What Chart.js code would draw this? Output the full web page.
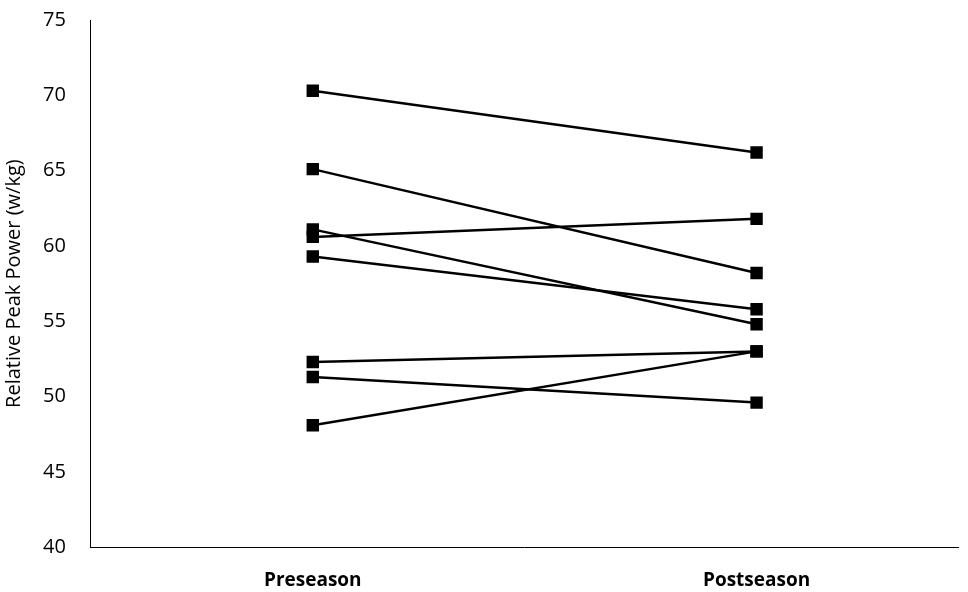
<!DOCTYPE html>
<html lang="en">
  <head>
    <meta charset="UTF-8" />
    <title>Relative Peak Power</title>
    <script src="https://cdn.jsdelivr.net/npm/chart.js"></script>
    <style>
      body {
        margin: 0;
        background: #fff;
      }
      .wrap {
        width: 968px;
        height: 592px;
      }
    </style>
  </head>
  <body>
    <div class="wrap">
      <canvas id="powerChart"></canvas>
    </div>

    <script>
      // phases on the x axis
      var phases = ["Preseason", "Postseason"];

      // one athlete per pair: preseason value, postseason value
      var preseason = [70.3, 65.1, 61.1, 60.6, 59.3, 52.3, 51.3, 48.1];
      var postseason = [66.2, 58.2, 54.8, 61.8, 55.8, 53.0, 49.6, 53.0];

      // y axis ticks
      var yMin = 40;
      var yMax = 75;
      var yStep = 5;

      var datasets = preseason.map(function (pre, i) {
        return {
          label: "Athlete " + (i + 1),
          data: [
            { x: 0, y: pre },
            { x: 1, y: postseason[i] },
          ],
          borderColor: "#000",
          backgroundColor: "#000",
          borderWidth: 2.5,
          pointStyle: "rect",
          pointRadius: 7,
          pointHoverRadius: 7,
          fill: false,
        };
      });

      new Chart(document.getElementById("powerChart").getContext("2d"), {
        type: "line",
        data: {
          datasets: datasets,
        },
        options: {
          responsive: true,
          maintainAspectRatio: false,
          animation: false,
          layout: {
            padding: { top: 20, right: -4, bottom: -14, left: 2 },
          },
          plugins: {
            legend: { display: false },
            tooltip: { enabled: false },
          },
          scales: {
            x: {
              type: "linear",
              min: -0.5,
              max: 1.455,
              grid: { display: false },
              border: { display: true, color: "#000", width: 1 },
              afterBuildTicks: function (axis) {
                axis.ticks = phases.map(function (p, i) {
                  return { value: i };
                });
              },
              afterFit: function (axis) {
                axis.paddingLeft = 0;
                axis.paddingRight = 0;
              },
              ticks: {
                color: "#000",
                padding: 14,
                font: { family: "Open Sans", size: 19, weight: "bold" },
                callback: function (v) {
                  return phases[v];
                },
              },
            },
            y: {
              min: yMin,
              max: yMax,
              grid: { display: false },
              border: { display: true, color: "#000", width: 1 },
              afterFit: function (axis) {
                axis.paddingTop = 0;
                axis.paddingBottom = 0;
              },
              ticks: {
                stepSize: yStep,
                color: "#000",
                padding: 17,
                font: { family: "Open Sans", size: 20 },
              },
              title: {
                display: true,
                text: "Relative Peak Power (w/kg)",
                color: "#000",
                padding: { top: 0, bottom: 0 },
                font: { family: "Open Sans", size: 20 },
              },
            },
          },
        },
      });
    </script>
  </body>
</html>
